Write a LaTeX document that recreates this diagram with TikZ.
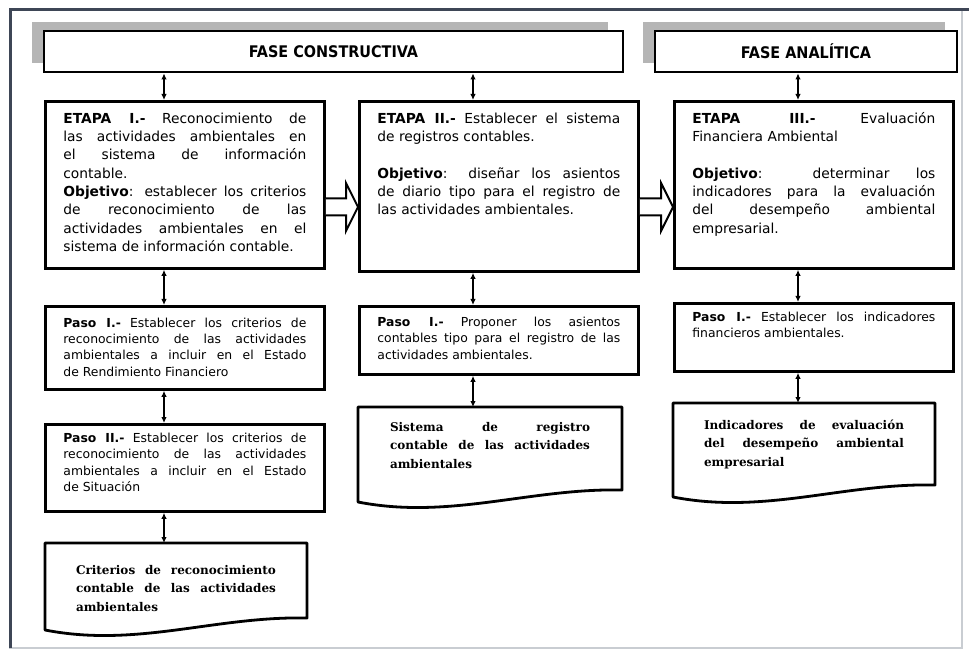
\documentclass[tikz,border=0pt]{standalone}
\usepackage{fontspec}
\setmainfont{DejaVu Sans}
\newfontfamily\hdfont{DejaVu Sans Condensed}
\newfontfamily\docfont{DejaVu Serif}
\usepackage{tikz}
\usetikzlibrary{calc}
\usetikzlibrary{arrows.meta}
\definecolor{framedark}{HTML}{3E4656}
\definecolor{framelight}{HTML}{C9CDD2}
\definecolor{shadowgray}{HTML}{B5B5B5}

\begin{document}
\begin{tikzpicture}[
    x=1pt, y=1pt,
    fase/.style={draw, fill=white, line width=2.8pt, inner sep=0pt, font=\hdfont\bfseries\fontsize{16}{19}\selectfont},
    etapa/.style={draw, line width=2.8pt, anchor=north west, inner xsep=18pt, inner ysep=0pt, text width=243pt, align=justify,
        execute at begin node={\parindent=0pt \tolerance=10000 \hbadness=10000 }, font=\fontsize{13.8}{18.3}\selectfont},
    paso/.style={etapa, font=\fontsize{12.4}{16.3}\selectfont},
    doc/.style={anchor=north west, inner sep=0pt, outer sep=0pt, text width=200pt, align=justify,
        execute at begin node={\parindent=0pt \tolerance=10000 \hbadness=10000 }, font=\docfont\bfseries\fontsize{12}{18.5}\selectfont},
    docline/.style={line width=2.8pt, line join=round},
    link/.style={<->, >={Latex[length=6pt,width=5.5pt]}, line width=1.3pt},
    hollow/.style={line width=2pt, fill=white, line join=miter}
]
\useasboundingbox (0,0) rectangle (969,-652);
\draw[framelight, line width=2pt] (10,-10) rectangle (962,-648);
\draw[framedark, line width=3pt] (10,-648) -- (10,-10) -- (969,-10);

\fill[shadowgray] (32,-22) rectangle (608,-63);
\fill[shadowgray] (643,-22) rectangle (945,-63);

\node[fase, minimum width=579pt, minimum height=41pt] at (333.5,-51.5) (faseC) {FASE CONSTRUCTIVA};
\node[fase, minimum width=302pt, minimum height=41pt] at (806,-51.5) (faseA) {FASE ANALÍTICA};

\node[etapa, text height=22pt, text depth=145pt] at (44,-100) (etapaI)
    {\textbf{ETAPA I.-} Reconocimiento de\linebreak las actividades ambientales en\linebreak el sistema de información\linebreak contable.\par
     \textbf{Objetivo}: establecer los criterios\linebreak de reconocimiento de las\linebreak actividades ambientales en el\linebreak sistema de información contable.};
\node[etapa, text height=22pt, text depth=148pt] at (358,-100) (etapaII)
    {\textbf{ETAPA II.-} Establecer el sistema\linebreak de registros contables.\par\vspace{18.3pt}
     \textbf{Objetivo}: diseñar los asientos\linebreak de diario tipo para el registro de\linebreak las actividades ambientales.};
\node[etapa, text height=22pt, text depth=145pt] at (673,-100) (etapaIII)
    {\textbf{ETAPA III.-} Evaluación\linebreak Financiera Ambiental\par\vspace{18.3pt}
     \textbf{Objetivo}: determinar los\linebreak indicadores para la evaluación\linebreak del desempeño ambiental\linebreak empresarial.};

\node[paso, text height=21pt, text depth=62pt] at (44,-305) (pasoIa)
    {\textbf{Paso I.-} Establecer los criterios de\linebreak reconocimiento de las actividades\linebreak ambientales a incluir en el Estado\linebreak de Rendimiento Financiero};
\node[paso, text height=18pt, text depth=69pt] at (44,-423) (pasoIIa)
    {\textbf{Paso II.-} Establecer los criterios de\linebreak reconocimiento de las actividades\linebreak ambientales a incluir en el Estado\linebreak de Situación};
\node[paso, text height=20pt, text depth=48pt] at (358,-305) (pasoIb)
    {\textbf{Paso I.-} Proponer los asientos\linebreak contables tipo para el registro de las\linebreak actividades ambientales.};
\node[paso, text height=18pt, text depth=50pt] at (673,-302) (pasoIc)
    {\textbf{Paso I.-} Establecer los indicadores\linebreak financieros ambientales.};

\node[doc, minimum width=262pt, text height=31pt, text depth=44pt] at (45,-543) (crit)
    {Criterios de reconocimiento\linebreak contable de las actividades\linebreak ambientales};
\node[doc, minimum width=264pt, text height=24pt, text depth=59pt] at (358,-407) (sist)
    {Sistema de registro\linebreak contable de las actividades\linebreak ambientales};
\node[doc, minimum width=262pt, text height=26pt, text depth=56pt] at (673,-403) (indic)
    {Indicadores de evaluación\linebreak del desempeño ambiental\linebreak empresarial};

\draw[docline] (crit.north west) -- (crit.north east) -- (crit.south east)
    .. controls ($(crit.south east)+(-92,2)$) and ($(crit.south west)+(92,-30)$) .. ($(crit.south west)+(0,-12)$) -- cycle;
\draw[docline] (sist.north west) -- (sist.north east) -- (sist.south east)
    .. controls ($(sist.south east)+(-92,2)$) and ($(sist.south west)+(92,-30)$) .. ($(sist.south west)+(0,-12)$) -- cycle;
\draw[docline] (indic.north west) -- (indic.north east) -- (indic.south east)
    .. controls ($(indic.south east)+(-92,2)$) and ($(indic.south west)+(92,-30)$) .. ($(indic.south west)+(0,-12)$) -- cycle;

\coordinate (colI) at (164,0);
\coordinate (colII) at (473,0);
\coordinate (colIII) at (798,0);
\coordinate (rowmid) at (0,-207);

\draw[link] (faseC.south -| colI) -- (etapaI.north -| colI);
\draw[link] (etapaI.south -| colI) -- (pasoIa.north -| colI);
\draw[link] (pasoIa.south -| colI) -- (pasoIIa.north -| colI);
\draw[link] (pasoIIa.south -| colI) -- (crit.north -| colI);
\draw[link] (faseC.south -| colII) -- (etapaII.north -| colII);
\draw[link] (etapaII.south -| colII) -- (pasoIb.north -| colII);
\draw[link] (pasoIb.south -| colII) -- (sist.north -| colII);
\draw[link] (faseA.south -| colIII) -- (etapaIII.north -| colIII);
\draw[link] (etapaIII.south -| colIII) -- (pasoIc.north -| colIII);
\draw[link] (pasoIc.south -| colIII) -- (indic.north -| colIII);

\draw[hollow] ($(etapaI.east |- rowmid)+(0,8.5)$) -- ($(etapaII.west |- rowmid)+(-12,8.5)$) -- ++(0,15.5)
    -- (etapaII.west |- rowmid) -- ++(-12,-24) -- ++(0,15.5) -- ($(etapaI.east |- rowmid)+(0,-8.5)$);
\draw[hollow] ($(etapaII.east |- rowmid)+(0,8.5)$) -- ($(etapaIII.west |- rowmid)+(-12,8.5)$) -- ++(0,15.5)
    -- (etapaIII.west |- rowmid) -- ++(-12,-24) -- ++(0,15.5) -- ($(etapaII.east |- rowmid)+(0,-8.5)$);
\end{tikzpicture}
\end{document}
